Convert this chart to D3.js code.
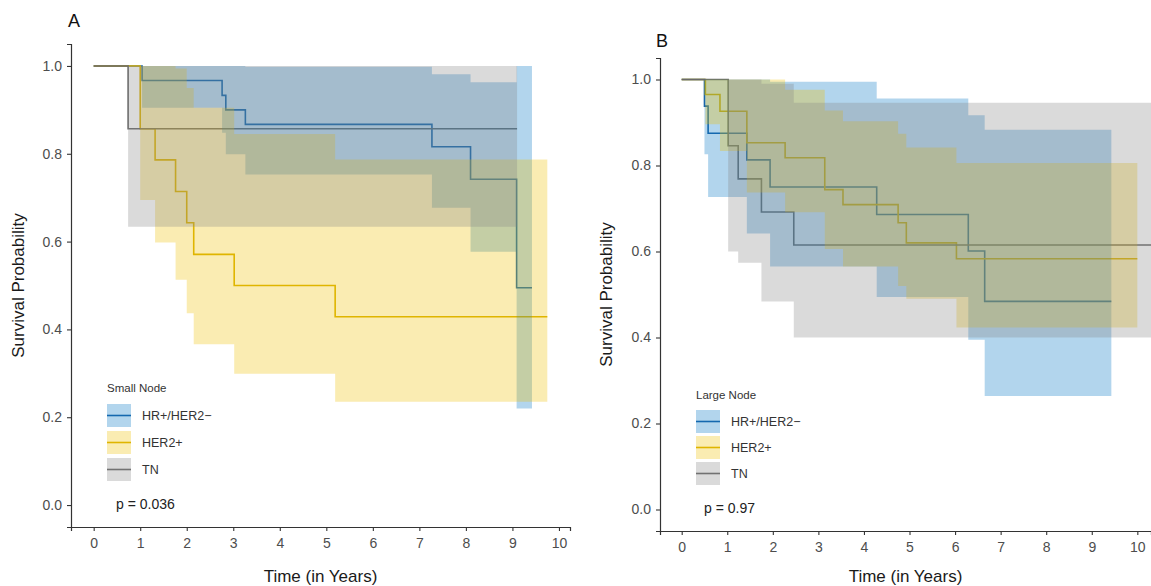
<!DOCTYPE html>
<html><head><meta charset="utf-8">
<script src="https://cdn.jsdelivr.net/npm/d3@7"></script>
<style>body{margin:0;background:#fff}svg{display:block;font-family:"Liberation Sans",Arial,sans-serif}</style>
</head><body><svg id="c" width="1151" height="586"></svg>
<script>
// ---------- data ----------
const groups = ["HR+/HER2−", "HER2+", "TN"];
const xTicks = [0,1,2,3,4,5,6,7,8,9,10];
const yTicks = [0,0.2,0.4,0.6,0.8,1.0];

// Panel A (Small Node)
const A_hr_time  = [0, 1.04, 2.76, 2.84, 3.26, 7.27, 8.10, 9.09];
const A_hr_surv  = [1, 0.967, 0.933, 0.900, 0.867, 0.816, 0.742, 0.495];
const A_hr_upper = [1, 1, 1, 1, 0.998, 0.981, 0.963, 1];
const A_hr_lower = [1, 0.905, 0.848, 0.799, 0.753, 0.677, 0.577, 0.220];
const A_hr_end = 9.42;
const A_her_time  = [0, 1.00, 1.32, 1.76, 2.00, 2.15, 3.02, 5.19];
const A_her_surv  = [1, 0.857, 0.786, 0.714, 0.643, 0.571, 0.500, 0.429];
const A_her_upper = [1, 1, 1, 0.994, 0.95, 0.905, 0.845, 0.787];
const A_her_lower = [1, 0.695, 0.598, 0.513, 0.437, 0.366, 0.299, 0.235];
const A_her_end = 9.75;
const A_tn_time  = [0, 0.74];
const A_tn_surv  = [1, 0.857];
const A_tn_upper = [1, 1];
const A_tn_lower = [1, 0.634];
const A_tn_end = 9.10;

// Panel B (Large Node)
const B_hr_time  = [0, 0.50, 0.58, 1.43, 1.94, 4.28, 6.29, 6.65];
const B_hr_surv  = [1, 0.938, 0.875, 0.813, 0.750, 0.686, 0.601, 0.484];
const B_hr_upper = [1, 1, 1, 1, 0.995, 0.956, 0.917, 0.883];
const B_hr_lower = [1, 0.826, 0.727, 0.642, 0.565, 0.494, 0.395, 0.264];
const B_hr_end = 9.43;
const B_her_time  = [0, 0.52, 0.84, 1.43, 2.27, 3.14, 3.54, 4.75, 4.93, 6.03];
const B_her_surv  = [1, 0.965, 0.926, 0.853, 0.818, 0.744, 0.709, 0.667, 0.620, 0.583];
const B_her_upper = [1, 1, 1, 1, 0.976, 0.928, 0.903, 0.874, 0.842, 0.806];
const B_her_lower = [1, 0.896, 0.834, 0.737, 0.691, 0.606, 0.565, 0.520, 0.490, 0.423];
const B_her_end = 10.0;
const B_tn_time  = [0, 1.02, 1.24, 1.75, 2.46];
const B_tn_surv  = [1, 0.846, 0.769, 0.692, 0.615];
const B_tn_upper = [1, 1, 1, 0.99, 0.946];
const B_tn_lower = [1, 0.60, 0.574, 0.484, 0.400];
const B_tn_end = 10.3;

const lineColors = ["#1d64a6", "#d9b000", "#6a6a6a"];
const fillColors = ["#0073C2", "#EFC000", "#868686"];

// ---------- drawing ----------
const svg = d3.select("#c");

function mk(time, surv, upper, lower, end){
  const pts = time.map((t,i)=>({t, s:surv[i], u:upper[i], l:lower[i]}));
  const last = pts[pts.length-1];
  pts.push({t:end, s:last.s, u:last.u, l:last.l});
  return pts;
}

function panel(cfg){
  const g = svg.append("g");
  const x = d3.scaleLinear().domain(cfg.xDomain).range(cfg.xRange);
  const y = d3.scaleLinear().domain([-0.05,1.05]).range(cfg.yRange);
  const line = d3.line().x(d=>x(d.t)).y(d=>y(d.s)).curve(d3.curveStepAfter);
  const area = d3.area().x(d=>x(d.t)).y0(d=>y(d.l)).y1(d=>y(d.u)).curve(d3.curveStepAfter);
  const clipId = "clip"+cfg.label;
  g.append("clipPath").attr("id",clipId).append("rect")
    .attr("x",cfg.xRange[0]).attr("y",cfg.yRange[1])
    .attr("width",cfg.xRange[1]-cfg.xRange[0]).attr("height",cfg.yRange[0]-cfg.yRange[1]);
  const pg = g.append("g").attr("clip-path",`url(#${clipId})`);
  cfg.series.forEach((s,i)=>{
    pg.append("path").attr("d",line(s)).attr("fill","none")
      .attr("stroke",lineColors[i]).attr("stroke-width",1.6);
  });
  cfg.series.forEach((s,i)=>{
    // band starts at first event (zero width before)
    pg.append("path").attr("d",area(s)).attr("fill",fillColors[i]).attr("fill-opacity",0.3);
  });
  // axes
  const xa = g.append("g").attr("transform",`translate(0,${cfg.yRange[0]})`)
    .call(d3.axisBottom(x).tickValues(xTicks).tickFormat(d3.format("d")).tickSizeOuter(0).tickSize(4).tickPadding(4));
  const ya = g.append("g").attr("transform",`translate(${cfg.xRange[0]},0)`)
    .call(d3.axisLeft(y).tickValues(yTicks).tickFormat(d3.format(".1f")).tickSizeOuter(0).tickSize(4).tickPadding(5));
  [xa,ya].forEach(a=>{
    a.select(".domain").attr("stroke","#333").attr("stroke-width",1.2);
    a.selectAll(".tick line").attr("stroke","#333").attr("stroke-width",1.1);
    a.selectAll(".tick text").attr("fill","#4d4d4d").style("font-size","14px").style("font-family","Liberation Sans, Arial, sans-serif");
  });
  xa.selectAll(".tick text").attr("dy","0.95em");
  // titles
  g.append("text").attr("x",(cfg.xRange[0]+cfg.xRange[1])/2).attr("y",582)
    .attr("text-anchor","middle").attr("fill","#1a1a1a").style("font-size","17px").text("Time (in Years)");
  const yc = (cfg.yRange[0]+cfg.yRange[1])/2;
  g.append("text").attr("transform",`translate(${cfg.yTitleX},${yc}) rotate(-90)`)
    .attr("text-anchor","middle").attr("fill","#1a1a1a").style("font-size","17px").text("Survival Probability");
  g.append("text").attr("x",cfg.labelPos[0]).attr("y",cfg.labelPos[1])
    .attr("fill","#111").style("font-size","18px").text(cfg.label);
  // legend
  const L = cfg.legend;
  g.append("text").attr("x",L.x).attr("y",L.titleY).attr("fill","#333").style("font-size","11.5px").text(L.title);
  groups.forEach((name,i)=>{
    const ky = L.keyY[i];
    g.append("line").attr("x1",L.x).attr("x2",L.x+24).attr("y1",ky+11.5).attr("y2",ky+11.5)
      .attr("stroke",lineColors[i]).attr("stroke-width",1.6);
    g.append("rect").attr("x",L.x).attr("y",ky).attr("width",24).attr("height",23)
      .attr("fill",fillColors[i]).attr("fill-opacity",0.3);
    g.append("text").attr("x",L.x+35).attr("y",ky+16).attr("fill","#333").style("font-size","12.5px").text(name);
  });
  g.append("text").attr("x",L.px).attr("y",L.py).attr("fill","#222").style("font-size","14px").text(L.p);
}

panel({
  label:"A", labelPos:[68,27], yTitleX:24,
  xDomain:[-0.4875,10.2375], xRange:[71,570], yRange:[527,44],
  series:[mk(A_hr_time,A_hr_surv,A_hr_upper,A_hr_lower,A_hr_end),
          mk(A_her_time,A_her_surv,A_her_upper,A_her_lower,A_her_end),
          mk(A_tn_time,A_tn_surv,A_tn_upper,A_tn_lower,A_tn_end)],
  legend:{x:107, title:"Small Node", titleY:392, keyY:[404,431,458], p:"p = 0.036", px:116, py:509}
});
panel({
  label:"B", labelPos:[656,47], yTitleX:612,
  xDomain:[-0.476,10.3], xRange:[660,1151], yRange:[531,58],
  series:[mk(B_hr_time,B_hr_surv,B_hr_upper,B_hr_lower,B_hr_end),
          mk(B_her_time,B_her_surv,B_her_upper,B_her_lower,B_her_end),
          mk(B_tn_time,B_tn_surv,B_tn_upper,B_tn_lower,B_tn_end)],
  legend:{x:696, title:"Large Node", titleY:399, keyY:[410,436,462], p:"p = 0.97", px:704, py:513}
});
</script></body></html>
